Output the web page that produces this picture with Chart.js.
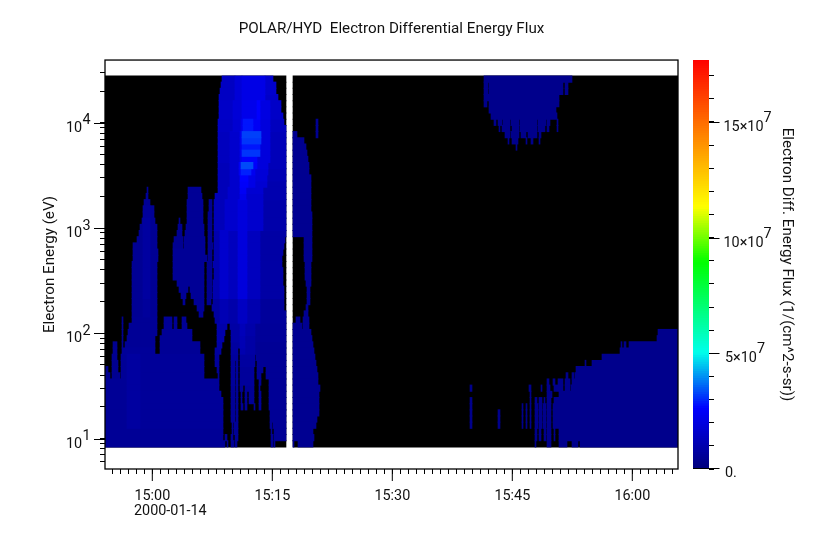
<!DOCTYPE html>
<html lang="en">
<head>
<meta charset="UTF-8">
<title>POLAR/HYD Electron Differential Energy Flux</title>
<script src="https://cdn.jsdelivr.net/npm/chart.js"></script>
<style>
  body { margin: 0; background: #fff; }
  canvas { position: absolute; left: 0; top: 0; }
</style>
</head>
<body>
<canvas id="spec" width="828" height="544"></canvas>
<canvas id="cbar" width="828" height="544"></canvas>
<script>
// energy channel edges in eV, bottom to top
const channelEdges = [8.32, 9.53, 10.9, 12.5, 14.3, 16.4, 18.7, 21.4, 24.5, 28.1, 32.2, 36.8, 42.2, 48.3, 55.3,
  63.3, 72.5, 83.0, 95.0, 109, 124.6, 143, 163, 187, 214, 245, 281, 321, 368, 421, 482, 552, 632, 724, 829,
  949, 1086, 1244, 1424, 1630, 1866, 2137, 2446, 2801, 3207, 3672, 4204, 4813, 5510, 6309, 7228, 8270, 9470,
  10840, 12410, 14210, 16270, 18630, 21330, 24420, 27800];

// sampling: sweep number -> minutes after 15:00
const firstSweepMin = -5.9125;
const sweepsPerMin = 8;
const lastSweep = 573;
// sweep ranges with data (the white stripe is the data gap)
const dataRanges = [[0, 181], [188, 573]];

// flux runs per channel, top channel first: start sweep, end sweep, flux in 1e7
const fluxRuns = [
  [117,130,1.4,130,137,1.8,137,160,2.1,160,168,1.6,379,467,.3],
  [116,130,1.4,130,137,1.8,137,160,2.1,160,171,1.6,379,383,.3,384,458,.3,460,463,.3],
  [115,130,1.4,130,137,1.8,137,160,2.1,160,171,1.6,379,383,.3,384,458,.3,460,463,.3],
  [114,130,1.4,130,137,1.8,137,160,2.1,160,173,1.5,379,454,.3],
  [114,128,1.5,128,137,1.8,137,152,2.2,152,155,2.6,155,165,2,165,176,1.5,379,382,.3,384,454,.3],
  [114,128,1.5,128,137,1.8,137,152,2.2,152,155,2.6,155,165,2,165,176,1.5,384,451,.3],
  [114,128,1.5,128,137,1.8,137,152,2.2,152,155,2.6,155,165,2,165,178,1.5,386,452,.3],
  [113,128,1.4,128,136,1.7,136,138,2.2,138,148,2.8,148,155,2.4,155,165,1.9,165,179,1.3,211,213,.4,389,391,.3,393,397,.3,398,405,.3,406,414,.3,415,432,.3,433,441,.3,442,445,.3,452,453,.3],
  [113,128,1.4,128,136,1.7,136,138,2.2,138,148,2.8,148,155,2.4,155,165,1.9,165,181,1.3,211,213,.4,394,395,.3,397,405,.3,407,414,.3,415,432,.3,433,440,.3,442,444,.3,452,453,.3],
  [113,125,1.3,125,135,1.6,135,137,2.3,137,156,3.2,156,165,1.9,165,181,1.2,188,192,.4,211,213,.4,400,405,.3,406,414,.3,416,421,.3,423,432,.3,434,436,.3],
  [113,125,1.3,125,135,1.6,135,137,2.3,137,156,3.1,156,165,1.9,165,181,1.2,188,199,.4,403,404,.3,407,413,.3,421,422,.3,426,428,.3,434,435,.3],
  [113,125,1.3,125,135,1.6,135,137,2.2,137,155,2.8,155,165,1.9,165,181,1.2,188,201,.4,411,412,.3],
  [113,125,1.3,125,135,1.6,135,137,2.3,137,155,3.1,155,165,1.9,165,181,1.2,188,202,.4],
  [113,125,1.3,125,135,1.6,135,137,2.2,137,152,2.6,152,165,1.9,165,181,1.2,188,203,.4],
  [113,125,1.2,125,134,1.6,134,136,2.4,136,148,3.3,148,152,2.5,152,163,1.9,163,181,1.2,188,204,.4],
  [113,125,1.2,125,134,1.6,134,136,2.3,136,146,2.9,146,150,2.3,150,163,1.8,163,181,1.1,188,204,.4],
  [113,125,1.2,125,135,1.6,135,143,2.6,143,150,2.1,150,162,1.8,162,181,1.1,188,206,.4],
  [113,125,1.2,125,135,1.6,135,143,2.5,143,150,2.1,150,162,1.7,162,181,1,188,206,.4],
  [42,43,.5,83,96,.5,113,123,1.2,123,135,1.6,135,141,2.4,141,158,1.7,158,181,1,188,206,.4],
  [41,43,.5,83,97,.5,110,123,1.2,123,135,1.6,135,141,2.2,141,158,1.6,158,181,1,188,206,.4],
  [39,45,.5,82,98,.5,104,107,.4,109,120,1.2,120,133,1.6,133,142,1.9,142,158,1.6,158,181,.9,188,206,.4],
  [38,45,.6,45,49,.45,82,98,.5,104,107,.4,109,120,1.2,120,133,1.6,133,142,1.9,142,158,1.6,158,181,.9,188,206,.4],
  [38,45,.6,45,49,.45,82,98,.5,103,107,.4,109,120,1.2,120,133,1.6,133,142,1.9,142,158,1.6,158,181,.9,188,207,.4],
  [37,38,.45,38,45,.7,45,50,.45,74,75,.4,82,98,.5,103,107,.4,109,120,1.2,120,133,1.6,133,142,1.9,142,158,1.6,158,181,.9,188,207,.4],
  [35,38,.45,38,45,.7,45,52,.45,73,77,.4,81,99,.5,103,107,.4,109,120,1.2,120,133,1.6,133,142,1.9,142,158,1.6,158,181,.9,188,207,.4],
  [34,38,.45,38,45,.7,45,52,.45,72,77,.4,80,99,.5,103,107,.4,109,115,1,115,123,1.6,123,133,1.3,133,142,1.9,142,155,1.3,155,181,.8,188,207,.4],
  [32,38,.45,38,45,.7,45,52,.45,69,78,.4,79,100,.5,103,107,.4,109,115,1,115,123,1.6,123,133,1.3,133,142,1.9,142,155,1.3,155,180,.8,199,207,.4],
  [28,38,.45,38,45,.7,45,52,.45,68,78,.4,79,100,.5,103,108,.4,109,115,1,115,123,1.6,123,133,1.3,133,142,1.9,142,155,1.3,155,179,.8,199,207,.4],
  [28,38,.45,38,45,.7,45,53,.45,68,100,.5,103,107,.4,109,115,1,115,123,1.6,123,133,1.3,133,142,1.9,142,155,1.3,155,178,.8,199,207,.4],
  [28,38,.45,38,45,.7,45,53,.45,68,102,.5,103,107,.4,109,115,1,115,123,1.6,123,133,1.3,133,142,1.9,142,155,1.3,155,177,.8,199,207,.4],
  [27,38,.45,38,45,.7,45,52,.45,68,99,.5,102,107,.4,108,115,1,115,123,1.6,123,133,1.3,133,142,1.9,142,155,1.3,155,177,.8,200,206,.4],
  [27,38,.45,38,45,.7,45,52,.45,68,99,.5,102,107,.4,109,115,1,115,123,1.6,123,133,1.3,133,142,1.9,142,155,1.3,155,178,.8,200,206,.4],
  [27,38,.45,38,45,.7,45,52,.45,68,99,.5,102,107,.4,109,115,1,115,123,1.6,123,133,1.3,133,142,1.9,142,155,1.3,155,178,.8,200,206,.4],
  [27,38,.45,38,45,.7,45,52,.45,72,99,.5,102,107,.4,108,115,1,115,123,1.6,123,133,1.3,133,142,1.9,142,155,1.3,155,178,.8,201,206,.4],
  [27,38,.45,38,45,.7,45,52,.45,74,83,.5,85,99,.5,102,107,.4,108,115,1,115,123,1.6,123,133,1.3,133,142,1.9,142,155,1.3,155,179,.8,202,205,.4],
  [27,38,.45,38,45,.7,45,52,.45,76,81,.5,86,99,.5,102,107,.4,108,115,1,115,123,1.6,123,133,1.3,133,142,1.9,142,155,1.3,155,179,.8,202,205,.4],
  [27,38,.45,38,45,.6,45,52,.45,78,80,.5,89,99,.5,102,106,.4,108,115,.7,115,123,1.1,123,133,.9,133,142,1.4,142,155,1,155,179,.6,202,205,.4],
  [27,38,.45,38,45,.6,45,52,.45,92,99,.5,107,115,.7,115,123,1.1,123,133,.9,133,142,1.4,142,155,1,155,179,.6,201,203,.4],
  [27,38,.45,38,45,.6,45,52,.45,94,98,.5,109,115,.7,115,123,1.1,123,133,.9,133,142,1.4,142,155,1,155,181,.6,199,203,.4],
  [17,18,.4,27,52,.5,59,67,.5,69,72,.5,77,81,.5,110,115,.7,115,123,1.1,123,133,.9,133,142,1.4,142,155,1,155,181,.6,191,195,.4,198,204,.4],
  [17,18,.4,24,52,.5,59,67,.5,69,72,.5,77,82,.5,112,122,.9,125,135,.8,135,140,1.2,140,150,.9,150,181,.55,188,197,.4,198,204,.4],
  [17,18,.4,23,52,.5,57,87,.5,112,120,.9,126,135,.8,135,140,1.2,140,150,.9,150,181,.55,188,206,.4,553,573,.3],
  [17,18,.4,22,50,.5,55,87,.5,112,119,.9,126,135,.8,135,140,1.1,140,150,.8,150,181,.55,188,207,.4,552,573,.3],
  [8,12,.4,17,18,.4,20,50,.5,55,95,.5,112,117,.8,126,135,.7,135,140,1.1,140,150,.8,150,181,.5,188,208,.4,516,517,.3,519,521,.3,524,573,.3],
  [8,12,.4,17,50,.55,55,95,.5,110,116,.7,126,133,.7,135,140,1,140,150,.8,150,181,.5,188,209,.4,515,573,.3],
  [7,12,.4,16,22,.5,22,35,.7,35,99,.55,110,114,.6,126,133,.6,135,150,.7,151,181,.5,188,210,.4,497,573,.3],
  [7,13,.4,16,22,.5,22,35,.7,35,99,.55,110,114,.6,126,130,.6,131,133,.6,135,150,.7,152,181,.5,188,211,.4,480,481,.3,487,573,.3],
  [0,3,.4,7,13,.4,16,22,.5,22,35,.7,35,99,.55,112,114,.5,126,130,.6,131,133,.6,135,149,.6,152,158,.5,161,181,.5,188,212,.4,471,573,.3],
  [0,5,.4,7,15,.4,16,22,.5,22,35,.7,35,99,.55,113,114,.5,126,130,.6,131,133,.6,135,149,.6,152,156,.5,161,181,.5,188,213,.4,461,463,.3,467,469,.3,470,573,.3],
  [0,22,.5,22,35,.7,35,114,.55,126,130,.6,131,133,.6,135,149,.6,154,156,.5,164,181,.5,188,213,.4,442,444,.3,448,450,.3,453,458,.3,460,465,.3,467,573,.3],
  [0,22,.5,22,35,.7,35,114,.55,126,130,.5,131,133,.5,135,138,.5,140,149,.5,154,155,.5,164,181,.5,188,215,.4,365,367,.3,424,426,.3,436,437,.3,442,445,.3,449,458,.3,460,465,.3,466,573,.3],
  [0,22,.5,22,35,.7,35,116,.55,126,130,.5,131,133,.5,136,137,.5,140,142,.5,144,149,.5,154,156,.5,164,181,.5,188,214,.4,425,426,.3,442,447,.3,454,573,.3],
  [0,22,.5,22,35,.7,35,118,.55,126,130,.5,131,133,.5,136,137,.5,140,142,.5,144,149,.5,154,156,.5,164,181,.5,188,214,.4,365,367,.3,425,426,.3,430,432,.3,434,437,.3,439,440,.3,442,446,.3,449,573,.3],
  [0,22,.5,22,35,.7,35,118,.55,126,130,.5,131,133,.5,136,138,.5,140,142,.5,149,150,.5,154,156,.5,164,181,.5,188,214,.4,365,367,.3,417,418,.3,421,422,.3,425,426,.3,430,433,.3,434,437,.3,438,441,.3,442,446,.3,448,573,.3],
  [0,22,.5,22,35,.7,35,118,.55,126,130,.5,131,133,.5,165,181,.5,188,214,.4,365,367,.3,393,395,.3,417,418,.3,421,422,.3,425,426,.3,430,433,.3,434,437,.3,438,441,.3,442,446,.3,448,573,.3],
  [0,22,.5,22,35,.7,35,118,.55,126,130,.5,131,133,.5,165,181,.5,188,212,.4,365,367,.3,393,395,.3,417,418,.3,421,422,.3,425,426,.3,430,433,.3,434,437,.3,438,441,.3,442,446,.3,448,573,.3],
  [0,22,.5,22,35,.7,35,118,.55,127,128,.5,129,133,.5,165,167,.5,168,181,.5,188,211,.4,365,367,.3,393,395,.3,417,418,.3,421,422,.3,425,426,.3,430,433,.3,434,437,.3,438,441,.3,442,446,.3,448,573,.3],
  [0,118,.5,127,128,.5,129,133,.5,166,167,.5,169,181,.5,188,208,.4,430,432,.3,434,436,.3,439,441,.3,442,446,.3,449,450,.3,454,573,.3],
  [0,118,.5,120,122,.5,126,128,.5,130,133,.5,166,168,.5,169,181,.5,188,209,.4,430,432,.3,434,436,.3,439,441,.3,442,446,.3,449,450,.3,454,573,.3],
  [0,120,.5,122,123,.5,126,129,.5,130,132,.5,166,168,.5,169,170,.5,188,189,.4,193,208,.4,430,431,.3,442,446,.3,454,462,.3,467,473,.3,475,573,.3]
];

// axis ticks
const yTickValues = [6, 7, 8, 9, 10, 20, 30, 40, 50, 60, 70, 80, 90, 100, 200, 300, 400, 500, 600, 700, 800, 900,
  1000, 2000, 3000, 4000, 5000, 6000, 7000, 8000, 9000, 10000, 20000, 30000];
const yMajorValues = [10, 100, 1000, 10000];
const yMajorExponents = ['1', '2', '3', '4'];
const xMajorMinutes = [0, 15, 30, 45, 60];
const xMajorLabels = ['15:00', '15:15', '15:30', '15:45', '16:00'];
const dateLabel = '2000-01-14';
const cbMax = 17.68;
const cbMajorValues = [0, 5, 10, 15];
const cbMajorLabels = ['0.', '5\u00d710', '10\u00d710', '15\u00d710'];

// colour table: flux (1e7) and rgb
const cmapFlux = [0, 2.6, 5, 8.9, 11.3, 17.68];
const cmapRgb = [[0, 0, 125], [0, 0, 255], [0, 255, 235], [0, 255, 0], [255, 255, 0], [255, 0, 0]];

const FONT = 'Roboto';
const INK = '#111';

function fluxColor(f) {
  let i = 0;
  while (i < cmapFlux.length - 2 && f > cmapFlux[i + 1]) i++;
  const k = Math.min(1, (f - cmapFlux[i]) / (cmapFlux[i + 1] - cmapFlux[i]));
  const c = cmapRgb[i].map((v, n) => Math.round(v + (cmapRgb[i + 1][n] - v) * k));
  return `rgb(${c[0]},${c[1]},${c[2]})`;
}

const sweepToMin = (s) => firstSweepMin + s / sweepsPerMin;

// one dataset per flux value, black fill underneath
const byFlux = new Map();
const addBar = (flux, x0, x1, e) => {
  if (!byFlux.has(flux)) byFlux.set(flux, []);
  byFlux.get(flux).push({ x: [sweepToMin(x0), sweepToMin(x1)], y: e });
};
fluxRuns.forEach((runs, t) => {
  const k = channelEdges.length - 2 - t;
  const e = Math.sqrt(channelEdges[k] * channelEdges[k + 1]);
  dataRanges.forEach((r) => addBar(0, r[0], r[1], e));
  for (let i = 0; i < runs.length; i += 3) addBar(runs[i + 2], runs[i], runs[i + 1], e);
});
const specSets = [...byFlux.keys()].map((f) => ({
  data: byFlux.get(f),
  backgroundColor: f === 0 ? '#000' : fluxColor(f),
  order: -f,
  grouped: false,
  barThickness: 6.5,
  borderWidth: 0
}));

const xTicks = [];
for (let m = -5; m <= 65; m++) xTicks.push({ value: m });

const specDeco = {
  id: 'specDeco',
  afterDraw(chart) {
    const { ctx, chartArea: a, scales } = chart;
    ctx.save();
    ctx.strokeStyle = '#000';
    ctx.lineWidth = 1.3;
    ctx.strokeRect(a.left, a.top, a.right - a.left, a.bottom - a.top);
    ctx.lineWidth = 1;
    ctx.beginPath();
    xMajorMinutes.forEach((m) => {
      const x = scales.x.getPixelForValue(m);
      ctx.moveTo(x, a.bottom); ctx.lineTo(x, a.bottom + 12);
    });
    yMajorValues.forEach((v) => {
      const y = Math.round(scales.y.getPixelForValue(v)) + 0.5;
      ctx.moveTo(a.left, y); ctx.lineTo(a.left - 11, y);
    });
    ctx.stroke();
    ctx.fillStyle = INK;
    ctx.font = '14.4px ' + FONT;
    ctx.textBaseline = 'alphabetic';
    ctx.textAlign = 'left';
    yMajorValues.forEach((v, i) => {
      const y = scales.y.getPixelForValue(v);
      ctx.fillText('10', 66, y + 9);
      ctx.fillText(yMajorExponents[i], 82.5, y + 1.5);
    });
    ctx.fillText(dateLabel, 134, 515);
    ctx.restore();
  }
};

new Chart(document.getElementById('spec'), {
  type: 'bar',
  data: { datasets: specSets },
  plugins: [specDeco],
  options: {
    indexAxis: 'y',
    responsive: false,
    animation: false,
    layout: { padding: { right: 150 } },
    plugins: {
      legend: { display: false },
      tooltip: { enabled: false },
      title: {
        display: true,
        text: 'POLAR/HYD  Electron Differential Energy Flux',
        fullSize: false,
        color: INK,
        font: { family: FONT, size: 15.2, weight: 'normal' },
        padding: { top: 20, bottom: 21.8 }
      }
    },
    scales: {
      x: {
        type: 'linear',
        min: firstSweepMin,
        max: sweepToMin(lastSweep),
        afterBuildTicks: (s) => { s.ticks = xTicks.map((t) => ({ ...t })); },
        afterFit: (s) => { s.height = 75; },
        border: { display: false },
        grid: { drawOnChartArea: false, tickLength: 5, tickColor: '#000' },
        ticks: {
          autoSkip: false,
          maxRotation: 0,
          padding: 14,
          color: INK,
          font: { family: FONT, size: 14.4 },
          callback: (v) => {
            const i = xMajorMinutes.indexOf(v);
            return i < 0 ? '' : xMajorLabels[i];
          }
        }
      },
      y: {
        type: 'logarithmic',
        min: 5.13,
        max: 39600,
        offset: false,
        afterBuildTicks: (s) => { s.ticks = yTickValues.map((v) => ({ value: v })); },
        afterFit: (s) => { s.width = 105; },
        border: { display: false },
        grid: { drawOnChartArea: false, offset: false, tickLength: 5, tickColor: '#000' },
        ticks: { autoSkip: false, callback: () => '' },
        title: {
          display: true,
          text: 'Electron Energy (eV)',
          color: INK,
          font: { family: FONT, size: 15.2, weight: 'normal' },
          padding: { top: 41, bottom: 0 }
        }
      }
    }
  }
});

// colour bar, its own chart with its own flux axis
const cbLevels = [];
for (let f = 0; f < cbMax; f += 0.1) cbLevels.push(f);
const cbSets = cbLevels.map((f) => ({
  data: [[f, Math.min(cbMax, f + 0.12)]],
  backgroundColor: fluxColor(f + 0.05),
  borderWidth: 0,
  grouped: false,
  barPercentage: 1,
  categoryPercentage: 1
}));

const cbTicks = [];
for (let v = 0; v <= 17; v++) cbTicks.push({ value: v });

const cbDeco = {
  id: 'cbDeco',
  afterDraw(chart) {
    const { ctx, chartArea: a, scales } = chart;
    ctx.save();
    ctx.strokeStyle = '#000';
    ctx.lineWidth = 1;
    ctx.fillStyle = INK;
    ctx.font = '14.4px ' + FONT;
    ctx.textAlign = 'left';
    cbMajorValues.forEach((v, i) => {
      const y = Math.round(scales.y.getPixelForValue(v)) + (v === 0 ? -0.5 : 0.5);
      ctx.beginPath();
      ctx.moveTo(v === 0 ? a.left : a.right, y);
      ctx.lineTo(a.right + 10.5, y);
      ctx.stroke();
      const tx = v === 5 || v === 0 ? 725 : 723.5;
      ctx.fillText(cbMajorLabels[i], tx, y + 8);
      if (v > 0) {
        const w = ctx.measureText(cbMajorLabels[i]).width;
        ctx.fillText('7', tx + w, y - 0.5);
      }
    });
    ctx.restore();
  }
};

new Chart(document.getElementById('cbar'), {
  type: 'bar',
  data: { labels: ['flux'], datasets: cbSets },
  plugins: [cbDeco],
  options: {
    responsive: false,
    animation: false,
    layout: { padding: { left: 693, top: 60, bottom: 75 } },
    plugins: { legend: { display: false }, tooltip: { enabled: false } },
    scales: {
      x: { display: false },
      y: {
        position: 'right',
        min: 0,
        max: cbMax,
        afterBuildTicks: (s) => { s.ticks = cbTicks.map((t) => ({ ...t })); },
        afterFit: (s) => { s.width = 119; },
        border: { display: false },
        grid: { drawOnChartArea: false, tickLength: 5, tickColor: '#000' },
        ticks: { autoSkip: false, callback: () => '' },
        title: {
          display: true,
          text: 'Electron Diff. Energy Flux (1/(cm^2-s-sr))',
          color: INK,
          font: { family: FONT, size: 15.2, weight: 'normal' },
          padding: { top: 32, bottom: 0 }
        }
      }
    }
  }
});
</script>
</body>
</html>
